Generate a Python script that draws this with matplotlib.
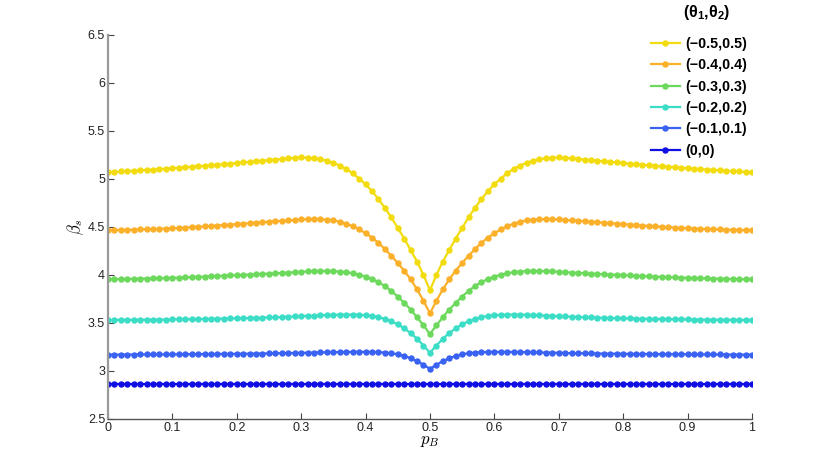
import numpy as np
import matplotlib.pyplot as plt

plt.rcParams['font.family'] = ['Liberation Sans', 'DejaVu Sans']
plt.rcParams['mathtext.fontset'] = 'cm'
plt.rcParams['mathtext.bf'] = 'Liberation Sans:bold'
plt.rcParams['mathtext.rm'] = 'Liberation Sans'
plt.rcParams['mathtext.it'] = 'Liberation Sans:italic'

# x grid: p_B from 0 to 1 in steps of 0.01
p_B = np.round(np.arange(101) * 0.01, 2)

# beta_s for each (theta1, theta2)
beta_05 = [5.070, 5.074, 5.078, 5.082, 5.086, 5.090, 5.094, 5.098, 5.102, 5.107,
           5.112, 5.117, 5.122, 5.127, 5.132, 5.137, 5.142, 5.148, 5.154, 5.160,
           5.166, 5.172, 5.178, 5.184, 5.190, 5.196, 5.202, 5.208, 5.214, 5.219,
           5.224, 5.222, 5.215, 5.205, 5.190, 5.170, 5.140, 5.105, 5.060, 5.005,
           4.945, 4.875, 4.790, 4.700, 4.600, 4.490, 4.380, 4.260, 4.140, 4.000,
           3.840,
           4.000, 4.140, 4.260, 4.380, 4.490, 4.600, 4.700, 4.790, 4.875, 4.945,
           5.005, 5.060, 5.105, 5.140, 5.170, 5.190, 5.205, 5.215, 5.222, 5.224,
           5.219, 5.214, 5.208, 5.202, 5.196, 5.190, 5.184, 5.178, 5.172, 5.166,
           5.160, 5.154, 5.148, 5.142, 5.137, 5.132, 5.127, 5.122, 5.117, 5.112,
           5.107, 5.102, 5.098, 5.094, 5.090, 5.086, 5.082, 5.078, 5.074, 5.070]

beta_04 = [4.466, 4.467, 4.469, 4.470, 4.472, 4.474, 4.476, 4.478, 4.481, 4.484,
           4.487, 4.490, 4.494, 4.498, 4.502, 4.506, 4.511, 4.515, 4.520, 4.525,
           4.530, 4.535, 4.540, 4.545, 4.550, 4.555, 4.560, 4.564, 4.568, 4.573,
           4.578, 4.581, 4.582, 4.581, 4.577, 4.569, 4.555, 4.535, 4.508, 4.475,
           4.435, 4.390, 4.335, 4.270, 4.200, 4.125, 4.045, 3.955, 3.850, 3.730,
           3.600,
           3.730, 3.850, 3.955, 4.045, 4.125, 4.200, 4.270, 4.335, 4.390, 4.435,
           4.475, 4.508, 4.535, 4.555, 4.569, 4.577, 4.581, 4.582, 4.581, 4.578,
           4.573, 4.568, 4.564, 4.560, 4.555, 4.550, 4.545, 4.540, 4.535, 4.530,
           4.525, 4.520, 4.515, 4.511, 4.506, 4.502, 4.498, 4.494, 4.490, 4.487,
           4.484, 4.481, 4.478, 4.476, 4.474, 4.472, 4.470, 4.469, 4.467, 4.466]

beta_03 = [3.955, 3.956, 3.957, 3.958, 3.960, 3.961, 3.963, 3.964, 3.966, 3.968,
           3.970, 3.972, 3.975, 3.977, 3.980, 3.983, 3.986, 3.989, 3.992, 3.995,
           3.998, 4.001, 4.004, 4.007, 4.011, 4.014, 4.018, 4.021, 4.025, 4.029,
           4.033, 4.037, 4.040, 4.042, 4.042, 4.040, 4.036, 4.029, 4.018, 4.003,
           3.984, 3.958, 3.925, 3.885, 3.835, 3.775, 3.710, 3.640, 3.560, 3.475,
           3.385,
           3.475, 3.560, 3.640, 3.710, 3.775, 3.835, 3.885, 3.925, 3.958, 3.984,
           4.003, 4.018, 4.029, 4.036, 4.040, 4.042, 4.042, 4.040, 4.037, 4.033,
           4.029, 4.025, 4.021, 4.018, 4.014, 4.011, 4.007, 4.004, 4.001, 3.998,
           3.995, 3.992, 3.989, 3.986, 3.983, 3.980, 3.977, 3.975, 3.972, 3.970,
           3.968, 3.966, 3.964, 3.963, 3.961, 3.960, 3.958, 3.957, 3.956, 3.955]

beta_02 = [3.531, 3.532, 3.532, 3.533, 3.533, 3.534, 3.534, 3.535, 3.535, 3.536,
           3.537, 3.538, 3.539, 3.540, 3.541, 3.542, 3.543, 3.544, 3.546, 3.547,
           3.549, 3.550, 3.552, 3.554, 3.556, 3.558, 3.560, 3.562, 3.565, 3.568,
           3.571, 3.574, 3.577, 3.580, 3.583, 3.585, 3.587, 3.588, 3.587, 3.585,
           3.581, 3.573, 3.561, 3.543, 3.518, 3.485, 3.445, 3.395, 3.335, 3.265,
           3.190,
           3.265, 3.335, 3.395, 3.445, 3.485, 3.518, 3.543, 3.561, 3.573, 3.581,
           3.585, 3.587, 3.588, 3.587, 3.585, 3.583, 3.580, 3.577, 3.574, 3.571,
           3.568, 3.565, 3.562, 3.560, 3.558, 3.556, 3.554, 3.552, 3.550, 3.549,
           3.547, 3.546, 3.544, 3.543, 3.542, 3.541, 3.540, 3.539, 3.538, 3.537,
           3.536, 3.535, 3.535, 3.534, 3.534, 3.533, 3.533, 3.532, 3.532, 3.531]

beta_01 = [3.170, 3.170, 3.171, 3.171, 3.171, 3.172, 3.172, 3.172, 3.173, 3.173,
           3.174, 3.174, 3.175, 3.175, 3.176, 3.176, 3.177, 3.177, 3.178, 3.178,
           3.179, 3.180, 3.180, 3.181, 3.182, 3.183, 3.184, 3.185, 3.186, 3.187,
           3.189, 3.190, 3.192, 3.193, 3.195, 3.196, 3.197, 3.198, 3.199, 3.199,
           3.199, 3.198, 3.196, 3.192, 3.185, 3.174, 3.157, 3.133, 3.102, 3.065,
           3.022,
           3.065, 3.102, 3.133, 3.157, 3.174, 3.185, 3.192, 3.196, 3.198, 3.199,
           3.199, 3.199, 3.198, 3.197, 3.196, 3.195, 3.193, 3.192, 3.190, 3.189,
           3.187, 3.186, 3.185, 3.184, 3.183, 3.182, 3.181, 3.180, 3.180, 3.179,
           3.178, 3.178, 3.177, 3.177, 3.176, 3.176, 3.175, 3.175, 3.174, 3.174,
           3.173, 3.173, 3.172, 3.172, 3.172, 3.171, 3.171, 3.171, 3.170, 3.170]

# theta = (0,0) is flat
beta_00 = [2.865] * 101

series = [beta_05, beta_04, beta_03, beta_02, beta_01, beta_00]
labels = ['(\u22120.5,0.5)', '(\u22120.4,0.4)', '(\u22120.3,0.3)',
          '(\u22120.2,0.2)', '(\u22120.1,0.1)', '(0,0)']
colors = ['#F2DC10', '#FBB02A', '#6CD95C', '#3CDDC6', '#3A62F2', '#1010E4']

fig = plt.figure(figsize=(8.3, 4.72), dpi=100)
ax = fig.add_axes([0.130, 0.1123, 0.776, 0.8136])

handles = []
for ys, lab, c in zip(series, labels, colors):
    h, = ax.plot(p_B, ys, '-o', color=c, lw=1.6, ms=3.6, mec=c, label=lab)
    handles.append(h)

ax.set_xlim(0, 1)
ax.set_ylim(2.5, 6.5)
ax.set_xticks(np.arange(0, 1.01, 0.1))
ax.set_xticklabels(['0', '0.1', '0.2', '0.3', '0.4', '0.5', '0.6', '0.7', '0.8', '0.9', '1'])
ax.set_yticks(np.arange(2.5, 6.51, 0.5))
ax.set_yticklabels(['2.5', '3', '3.5', '4', '4.5', '5', '5.5', '6', '6.5'])

for s in ['top', 'right']:
    ax.spines[s].set_visible(False)
ax.spines['left'].set_color('#9a9a9a')
ax.spines['left'].set_linewidth(1.6)
ax.spines['bottom'].set_color('#555555')
ax.spines['bottom'].set_linewidth(1.0)
ax.tick_params(direction='in', length=4, width=0.8, color='#444444',
               labelsize=9, labelcolor='#222222', pad=2)

ax.set_xlabel(r'$p_B$', fontsize=12, labelpad=0)
ax.set_ylabel(r'$\beta_s$', fontsize=12, labelpad=1)

leg = fig.legend(handles=handles, loc='upper left', bbox_to_anchor=(0.769, 0.9485),
                 frameon=False, prop={'weight': 'bold', 'size': 10.3},
                 handlelength=2.0, handletextpad=0.38, labelspacing=0.51)

# legend title drawn on its own so its gap can match
fig.text(0.851, 0.974, r'$\mathbf{(\theta_1{,}\theta_2)}$', ha='center', va='center',
         fontsize=11.5, math_fontfamily='custom')

fig.savefig('out.png', dpi=100)
